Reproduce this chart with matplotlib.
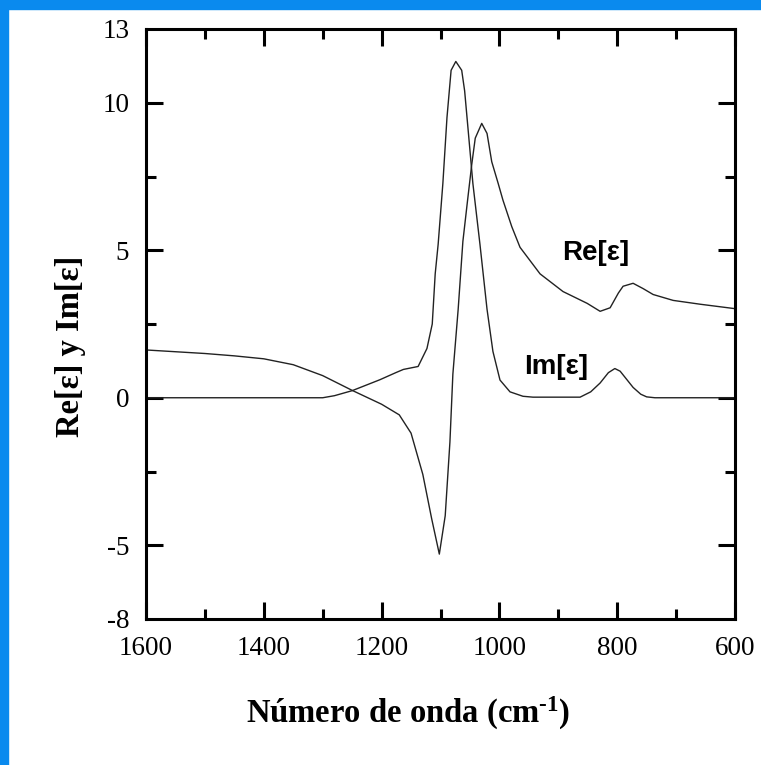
import matplotlib
matplotlib.use('Agg')

import matplotlib.pyplot as plt
from matplotlib.patches import Rectangle

# Data (wavenumber in cm-1, decreasing)
re_wn = [1600, 1500, 1450, 1400, 1350, 1300, 1250, 1200, 1170, 1150, 1130, 1115,
         1102, 1092, 1084, 1079, 1070, 1062, 1054, 1047, 1041, 1030, 1021, 1013,
         1002, 994, 979, 965, 931, 892, 851, 829, 812, 798, 790, 773, 756, 739,
         705, 659, 600]
re_eps = [1.62, 1.50, 1.42, 1.32, 1.12, 0.75, 0.25, -0.22, -0.58, -1.2, -2.6, -4.1,
          -5.3, -4.0, -1.5, 0.8, 3.0, 5.3, 6.7, 7.9, 8.8, 9.3, 8.96, 8.0,
          7.26, 6.7, 5.8, 5.1, 4.2, 3.6, 3.2, 2.93, 3.05, 3.55, 3.78, 3.88, 3.7, 3.5,
          3.3, 3.17, 3.02]

im_wn = [1600, 1300, 1280, 1250, 1203, 1176, 1163, 1138, 1123, 1114, 1109, 1104,
         1096, 1089, 1082, 1074, 1064, 1059, 1053, 1045, 1033, 1021, 1011, 999,
         982, 960, 943, 863, 845, 829, 815, 804, 795, 785, 773, 760, 750, 736, 600]
im_eps = [0.0, 0.0, 0.07, 0.24, 0.61, 0.85, 0.96, 1.06, 1.67, 2.5, 4.2, 5.2,
          7.26, 9.5, 11.1, 11.4, 11.1, 10.4, 9.06, 7.26, 5.2, 3.0, 1.57, 0.6,
          0.2, 0.05, 0.02, 0.02, 0.2, 0.5, 0.85, 0.99, 0.9, 0.65, 0.35, 0.12, 0.03, 0.0, 0.0]

y_ticks = [-7.5, -5, 0, 5, 10, 12.5]
y_labels = ['-8', '-5', '0', '5', '10', '13']
x_ticks = [1600, 1400, 1200, 1000, 800, 600]


def main():
    plt.rcParams['mathtext.fontset'] = 'custom'
    plt.rcParams['mathtext.rm'] = 'Liberation Serif:bold'
    plt.rcParams['mathtext.it'] = 'Liberation Serif:bold'
    plt.rcParams['mathtext.bf'] = 'Liberation Serif:bold'

    fig = plt.figure(figsize=(7.61, 7.65), dpi=100)
    W, H = 761, 765

    # blue frame on the left and top edges
    fig.patches.append(Rectangle((0, 0), 8 / W, 1, transform=fig.transFigure,
                                 color='#0a8aee', zorder=-1))
    fig.patches.append(Rectangle((0, 1 - 9 / H), 1, 9 / H, transform=fig.transFigure,
                                 color='#0a8aee', zorder=-1))

    ax = fig.add_axes([146 / W, 1 - 619 / H, (735 - 146) / W, (619 - 29) / H])

    ax.plot(re_wn, re_eps, color='#222222', lw=1.0)
    ax.plot(im_wn, im_eps, color='#222222', lw=1.0)

    ax.set_xlim(1600, 600)
    ax.set_ylim(-7.5, 12.5)

    ax.set_xticks(x_ticks)
    ax.set_xticks(range(1500, 600, -200), minor=True)
    ax.set_yticks(y_ticks)
    ax.set_yticklabels(y_labels)
    ax.set_yticks([-2.5, 2.5, 7.5], minor=True)

    for s in ax.spines.values():
        s.set_linewidth(2.2)

    ax.tick_params(which='both', direction='in', top=True, right=True, width=2.2,
                   labelsize=19.5, pad=12)
    ax.tick_params(which='major', length=12)
    ax.tick_params(which='minor', length=7)
    # the limit labels sit at the ends, no tick mark there
    for t in ax.yaxis.get_major_ticks():
        if t.get_loc() in (-7.5, 12.5):
            t.tick1line.set_visible(False)
            t.tick2line.set_visible(False)
    for lab in ax.get_xticklabels() + ax.get_yticklabels():
        lab.set_family('Liberation Serif')

    ax.text(836, 4.9, 'Re[ε]', fontsize=20, fontweight='bold',
            family='Liberation Sans', ha='center', va='center')
    ax.text(904, 1.05, 'Im[ε]', fontsize=20, fontweight='bold',
            family='Liberation Sans', ha='center', va='center')

    fig.text(408 / W, 1 - 713 / H, 'Número de onda (cm$^{\u2010\\mathrm{1}}$)',
             fontsize=23.5, fontweight='bold', family='Liberation Serif',
             ha='center', va='center')
    fig.text(70 / W, 1 - 346 / H, 'Re[ε] y Im[ε]', fontsize=23.5, fontweight='bold',
             family='Liberation Serif', rotation=90, ha='center', va='center')

    fig.savefig('out.png', dpi=100)


if __name__ == "__main__":
    main()
